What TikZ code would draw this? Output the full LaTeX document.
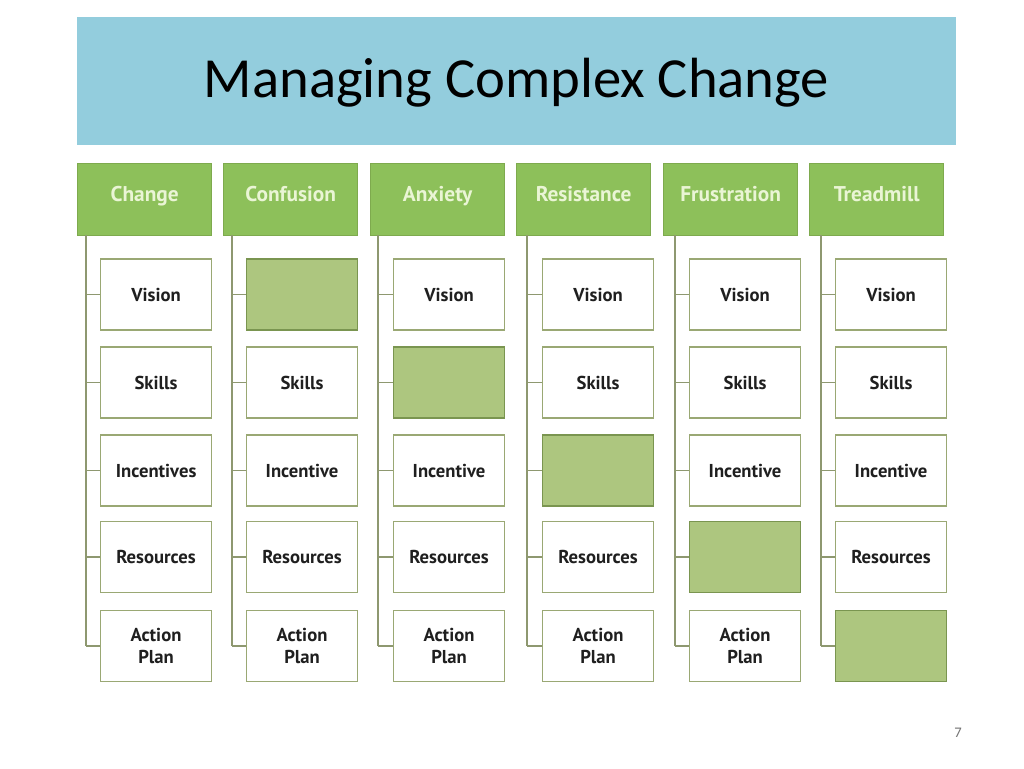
\documentclass[tikz,border=0pt]{standalone}
\usepackage{fontspec}
\setmainfont{Carlito}
\newfontfamily\boxfont{PT Sans}
\definecolor{band}{HTML}{93CDDD}
\definecolor{hdrfill}{HTML}{8DC05A}
\definecolor{hdrdraw}{HTML}{7EAA4E}
\definecolor{hdrtext}{HTML}{EAF5D5}
\definecolor{boxdraw}{HTML}{9AA874}
\definecolor{gapfill}{HTML}{ADC67F}
\definecolor{gapdraw}{HTML}{7A9550}
\definecolor{linecol}{HTML}{8E9870}
\begin{document}
\begin{tikzpicture}[x=0.75pt,y=-0.75pt,
  hdr/.style={draw=hdrdraw,fill=hdrfill,line width=1pt,minimum width=100.5pt,minimum height=54pt,inner sep=0pt},
  hdrlabel/.style={text=hdrtext,font=\boxfont\bfseries\fontsize{16}{18}\selectfont,inner sep=0pt,text height=11.5pt,text depth=3.5pt},
  item/.style={draw=boxdraw,fill=white,line width=1.1pt,minimum width=83pt,minimum height=53.5pt,inner sep=0pt,
    align=center,font=\boxfont\bfseries\fontsize{14}{16.5}\selectfont,text=black!88},
  gap/.style={item,draw=gapdraw,fill=gapfill},
  conn/.style={draw=linecol,line width=1pt}]
\useasboundingbox (0,0) rectangle (1024,768);
\fill[white] (0,0) rectangle (1024,768);
\node[fill=band,minimum width=659.25pt,minimum height=96pt,inner sep=0pt,anchor=north west] (title) at (77,17) {};
\node[font=\fontsize{42.5}{48}\selectfont] (titletext) at (516.5,83) {Managing Complex Change};
\node[font=\fontsize{11}{13}\selectfont,text=black!55] (pagenum) at (958,733) {7};
% columns
\def\rowys{{294.5,382.5,470.5,557,646}}
\foreach \i/\hx/\vx/\bx/\hl/\la/\lb/\lc/\ld/\le/\g in {
  1/77/86/100/Change/Vision/Skills/Incentives/Resources/{Action\\Plan}/0,
  2/223/232/246/Confusion//Skills/Incentive/Resources/{Action\\Plan}/1,
  3/370/378/393/Anxiety/Vision//Incentive/Resources/{Action\\Plan}/2,
  4/516/527/542/Resistance/Vision/Skills//Resources/{Action\\Plan}/3,
  5/663/675/689/Frustration/Vision/Skills/Incentive//{Action\\Plan}/4,
  6/809/821/835/Treadmill/Vision/Skills/Incentive/Resources//5}{
  \node[hdr,anchor=north west] (h\i) at (\hx,163) {};
  \node[hdrlabel] (hl\i) at ([yshift=2.5pt]h\i.center) {\hl};
  \coordinate (top\i) at (\vx,235);
  \foreach \r/\t in {1/\la,2/\lb,3/\lc,4/\ld,5/\le}{
    \pgfmathsetmacro{\yy}{\rowys[\r-1]}
    \pgfmathtruncatemacro{\isgap}{\r==\g ? 1 : 0}
    \ifnum\isgap=1
      \node[gap,anchor=west] (b\i\r) at (\bx,\yy) {};
    \else
      \node[item,anchor=west] (b\i\r) at (\bx,\yy) {\t};
    \fi
    \coordinate (t\i\r) at (\vx,\yy);
    \draw[conn] (t\i\r) -- (b\i\r.west);
  }
  \draw[conn] (top\i) -- (t\i5);
}
\end{tikzpicture}
\end{document}
